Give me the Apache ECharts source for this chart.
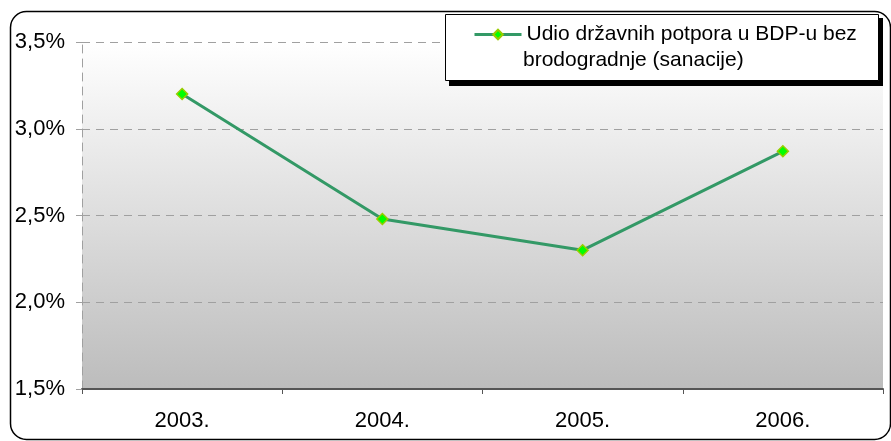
<!DOCTYPE html>
<html>
<head>
<meta charset="utf-8">
<script src="https://cdn.jsdelivr.net/npm/echarts@6/dist/echarts.min.js"></script>
<style>
  html, body { margin: 0; padding: 0; background: #fff; }
  #chart { width: 891px; height: 441px; }
</style>
</head>
<body>
<div id="chart"></div>
<script>
var years = ['2003.', '2004.', '2005.', '2006.'];
var udio = [3.2, 2.48, 2.3, 2.87];
var yTicks = { min: 1.5, max: 3.5, step: 0.5 };
var seriesName = 'Udio državnih potpora u BDP-u bez brodogradnje (sanacije)';
var legendLine1 = 'Udio državnih potpora u BDP-u bez';
var legendLine2 = 'brodogradnje (sanacije)';

var font = 'Liberation Sans, Arial, sans-serif';

var option = {
  animation: false,
  grid: {
    left: 82,
    right: 8,
    top: 42,
    bottom: 52,
    show: true,
    borderWidth: 0,
    backgroundColor: {
      type: 'linear', x: 0, y: 0, x2: 0, y2: 1,
      colorStops: [
        { offset: 0, color: '#ffffff' },
        { offset: 1, color: '#bcbcbc' }
      ]
    }
  },
  xAxis: {
    type: 'category',
    data: years,
    boundaryGap: true,
    axisLine: { lineStyle: { color: '#555555', width: 2 } },
    axisTick: { show: true, length: 5, lineStyle: { color: '#555555' } },
    axisLabel: { color: '#000', fontFamily: font, fontSize: 22, margin: 21 }
  },
  yAxis: {
    type: 'value',
    min: yTicks.min,
    max: yTicks.max,
    interval: yTicks.step,
    axisLine: { show: true, lineStyle: { color: '#a0a0a0', type: [8, 6] } },
    axisTick: { show: true, length: 6, lineStyle: { color: '#a0a0a0' } },
    splitLine: { show: true, lineStyle: { color: '#a0a0a0', type: [8, 6] } },
    axisLabel: {
      color: '#000', fontFamily: font, fontSize: 22, margin: 17,
      formatter: function (v) { return v.toFixed(1).replace('.', ',') + '%'; }
    }
  },
  legend: {
    left: 473,
    top: 24,
    padding: 0,
    itemWidth: 47,
    itemHeight: 12,
    data: [seriesName],
    formatter: function () { return legendLine1; },
    textStyle: { color: '#000', fontFamily: font, fontSize: 21 },
    lineStyle: { width: 3 },
    z: 300
  },
  graphic: [
    {
      type: 'rect', z: 100, silent: true,
      shape: { x: 10.5, y: 11.5, width: 880, height: 428, r: 16 },
      style: { fill: 'none', stroke: '#000', lineWidth: 1.5 }
    },
    {
      type: 'rect', z: 101, silent: true,
      shape: { x: 449, y: 18, width: 434, height: 68 },
      style: { fill: '#000' }
    },
    {
      type: 'rect', z: 102, silent: true,
      shape: { x: 445.5, y: 14.5, width: 433, height: 66 },
      style: { fill: '#fff', stroke: '#000', lineWidth: 1 }
    },
    {
      type: 'text', z: 103, silent: true,
      left: 523, top: 50,
      style: { text: legendLine2, fill: '#000', font: '21px ' + font }
    }
  ],
  series: [
    {
      name: seriesName,
      type: 'line',
      data: udio,
      z: 5,
      symbol: 'diamond',
      symbolSize: 11,
      lineStyle: { color: '#339966', width: 3 },
      itemStyle: { color: '#00ff00', borderColor: '#99cc00', borderWidth: 1.5 }
    }
  ]
};

var chart = echarts.init(document.getElementById('chart'), null, { renderer: 'canvas' });
chart.setOption(option);
</script>
</body>
</html>
